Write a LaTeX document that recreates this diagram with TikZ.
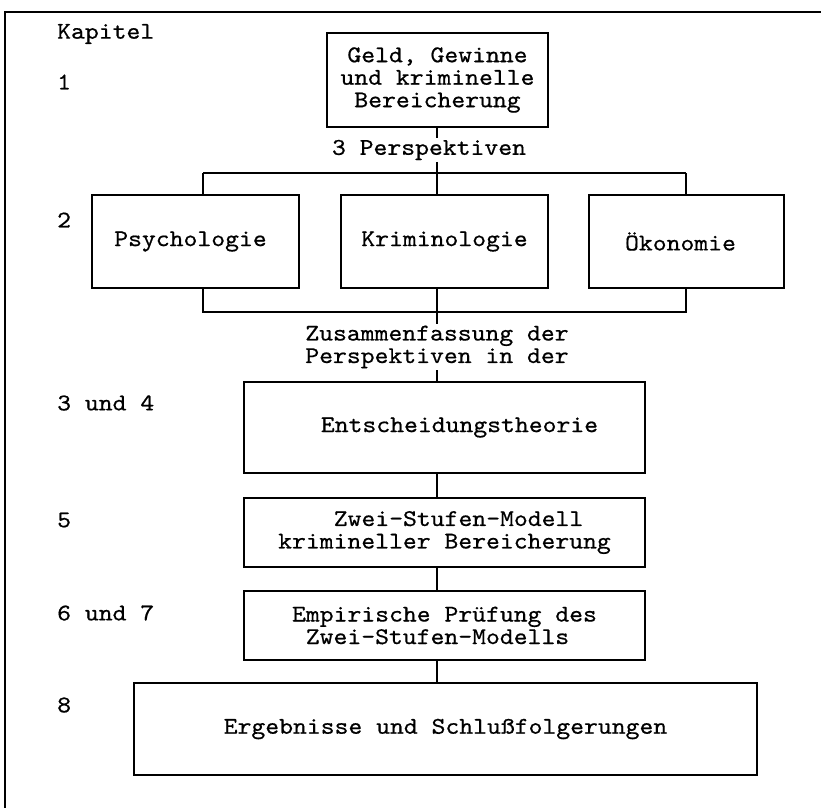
\documentclass[tikz,border=0pt]{standalone}
\usepackage{fontspec}
\newfontfamily\twfont{lmmono10-regular}[Extension=.otf,FakeStretch=1.1,FakeBold=0.6]
\begin{document}
\begin{tikzpicture}[x=1pt,y=-1pt,
  every node/.style={font=\twfont\fontsize{24}{22.5}\selectfont},
  box/.style={draw,line width=1.3pt,align=center,inner sep=0pt},
  lbl/.style={anchor=west,inner sep=0pt},
  captext/.style={align=center,inner sep=1.5pt},
  ln/.style={line width=1.3pt}]
\useasboundingbox (0,0) rectangle (821,808);
\fill[white] (0,0) rectangle (821,808);
% frame
\coordinate (f1) at (821,12);
\coordinate (f2) at (5,12);
\coordinate (f3) at (5,808);
\draw[ln] (f1) -- (f2) -- (f3);
% chapter labels
\node[lbl] (k0) at (57,34) {Kapitel};
\node[lbl] (k1) at (57,82) {1};
\node[lbl] (k2) at (57,220) {2};
\node[lbl] (k3) at (57,403) {3 und 4};
\node[lbl] (k5) at (57,520) {5};
\node[lbl] (k6) at (57,613) {6 und 7};
\node[lbl] (k8) at (57,705) {8};
% boxes
\node[box,minimum width=221pt,minimum height=94pt] (geld) at (437.5,80) {Geld, Gewinne\\und kriminelle\\Bereicherung};
\node[captext] (persp) at (429,150) {3 Perspektiven};
\node[box,minimum width=207pt,minimum height=93pt] (psy) at (195.5,241.5) {\hspace*{-10pt}Psychologie};
\node[box,minimum width=207pt,minimum height=93pt] (kri) at (444.5,241.5) {Kriminologie};
\node[box,minimum width=195pt,minimum height=93pt] (oek) at (686.5,241.5) {\hspace*{-12pt}Ökonomie};
\node[captext] (zus) at (437,347) {Zusammenfassung der\\Perspektiven in der};
\node[box,minimum width=401pt,minimum height=91pt] (ent) at (444.5,427.5) {\hspace*{30pt}Entscheidungstheorie};
\node[box,minimum width=401pt,minimum height=69pt] (zwei) at (444.5,532.5) {\hspace*{28pt}Zwei-Stufen-Modell\\krimineller Bereicherung};
\node[box,minimum width=401pt,minimum height=69pt] (emp) at (444.5,625.5) {Empirische Prüfung des\\\hspace*{-14pt}Zwei-Stufen-Modells};
\node[box,minimum width=623pt,minimum height=92pt] (erg) at (445.5,729) {Ergebnisse und Schlußfolgerungen};
% connector coordinates
\coordinate (tl) at (203,173);
\coordinate (tm) at (437,173);
\coordinate (tr) at (686,173);
\coordinate (bl) at (203,312);
\coordinate (bm) at (437,312);
\coordinate (br) at (686,312);
% connectors
\draw[ln] (geld.south -| tm) -- (persp.north -| tm);
\draw[ln] (persp.south -| tm) -- (tm);
\draw[ln] (tl) -- (tr);
\draw[ln] (tl) -- (tl |- psy.north);
\draw[ln] (tm) -- (tm |- kri.north);
\draw[ln] (tr) -- (tr |- oek.north);
\draw[ln] (bl |- psy.south) -- (bl) -- (br) -- (br |- oek.south);
\draw[ln] (bm |- kri.south) -- (bm);
\draw[ln] (bm) -- (zus.north -| bm);
\draw[ln] (zus.south -| bm) -- (ent.north -| bm);
\draw[ln] (ent.south -| bm) -- (zwei.north -| bm);
\draw[ln] (zwei.south -| bm) -- (emp.north -| bm);
\draw[ln] (emp.south -| bm) -- (erg.north -| bm);
\end{tikzpicture}
\end{document}
